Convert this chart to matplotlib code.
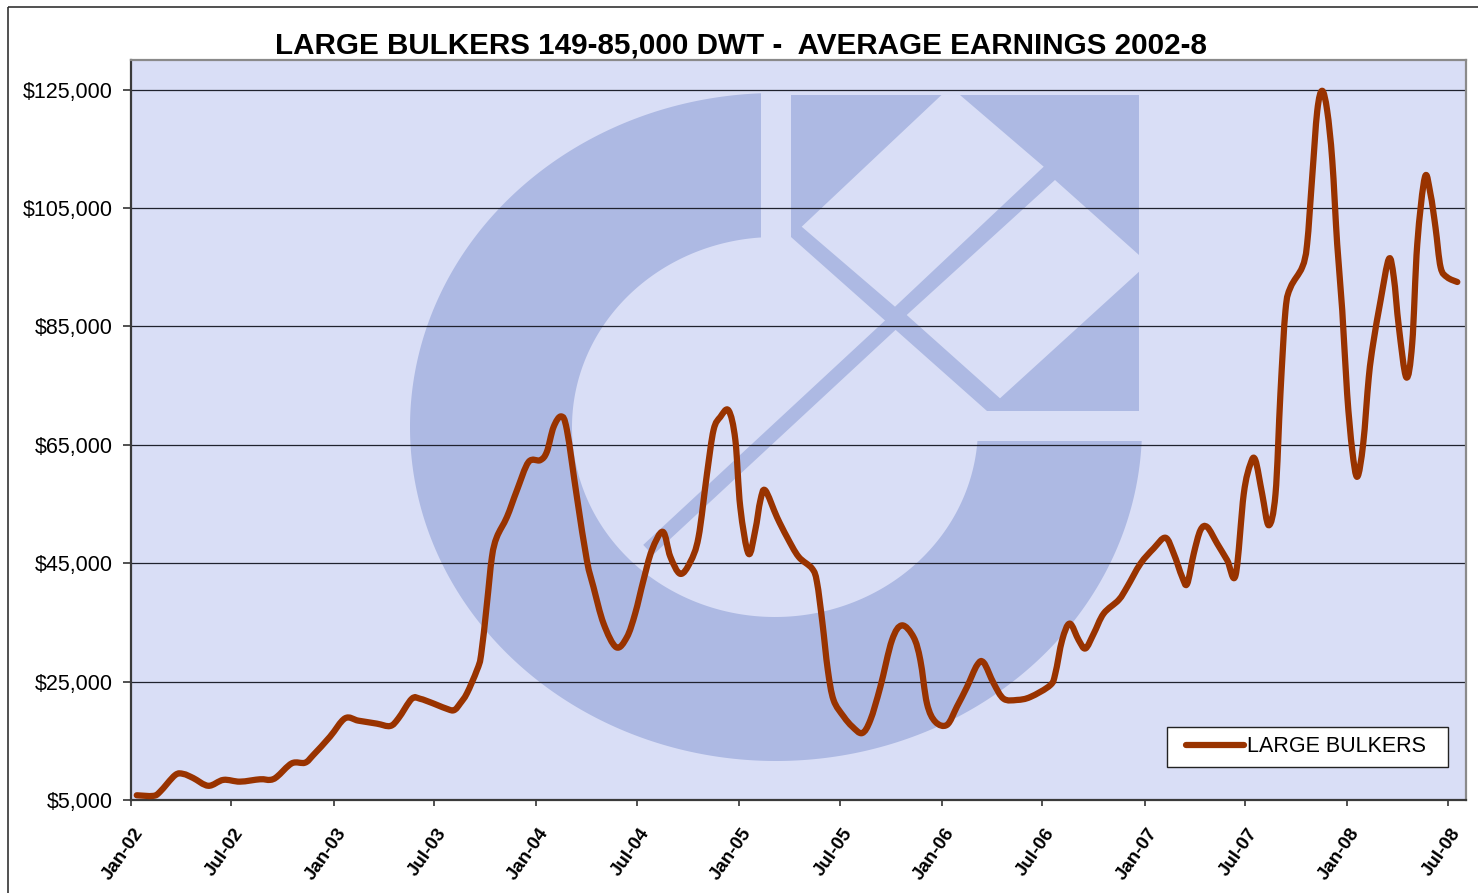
import numpy as np
import matplotlib
matplotlib.use("Agg")
import matplotlib.pyplot as plt
import matplotlib.dates as mdates
import matplotlib.transforms as mtransforms
from matplotlib.patches import Polygon, Rectangle, PathPatch
from matplotlib.path import Path
from matplotlib.lines import Line2D
from matplotlib.ticker import FuncFormatter, FixedLocator
import datetime as dt

plt.rcParams['font.family'] = ['Liberation Sans', 'DejaVu Sans']

# ---------------- data ----------------
TITLE = "LARGE BULKERS 149-85,000 DWT -  AVERAGE EARNINGS 2002-8"
SERIES_NAME = "LARGE BULKERS"

# months elapsed since 1 Jan 2002
months = [0.34, 1.32, 1.72, 2.61, 3.10, 3.69, 4.58, 5.47, 6.45, 7.64, 8.23, 8.63,
          9.52, 10.30, 10.79, 11.78, 12.67, 13.46, 14.55, 15.34, 15.83, 16.62, 17.11,
          17.90, 18.89, 19.19, 19.48, 19.88, 20.47, 20.72, 21.06, 21.36, 21.65, 22.25,
          22.84, 23.53, 24.22, 24.61, 25.01, 25.46, 25.80, 26.39, 26.98, 27.37, 27.97,
          28.72, 29.35, 29.84, 30.33, 30.83, 31.48, 31.92, 32.51, 33.10, 33.59, 34.09,
          34.48, 34.88, 35.37, 35.77, 36.06, 36.55, 36.95, 37.25, 37.54, 38.23, 38.83,
          39.51, 40.31, 40.60, 40.92, 41.24, 41.58, 42.18, 42.69, 43.27, 43.76, 44.35,
          45.04, 45.63, 46.32, 46.72, 47.11, 47.61, 48.30, 48.89, 49.48, 50.08, 50.47,
          51.06, 51.65, 52.44, 53.23, 54.41, 54.71, 55.11, 55.56, 56.09, 56.49, 56.98,
          57.57, 58.46, 58.96, 59.74, 60.53, 61.23, 61.72, 62.21, 62.51, 62.90, 63.30,
          63.70, 64.29, 64.88, 65.38, 65.86, 66.26, 66.55, 66.95, 67.34, 67.74, 68.03,
          68.33, 68.63, 69.32, 69.61, 69.91, 70.21, 70.50, 70.80, 71.10, 71.39, 71.69,
          71.98, 72.28, 72.58, 72.93, 73.26, 73.52, 73.96, 74.45, 74.74, 75.04, 75.48,
          75.83, 76.13, 76.58, 76.91, 77.21, 77.51, 77.90, 78.50]

earnings = [5800, 5700, 6400, 9200, 9400, 8700, 7400, 8400, 8100, 8500, 8400, 8900,
            11200, 11300, 12600, 15700, 18800, 18400, 17900, 17500, 18800, 22100, 22100,
            21300, 20200, 20300, 21300, 23000, 26900, 29500, 38000, 46000, 49400, 52800,
            57300, 62100, 62400, 63800, 68000, 69800, 67500, 56200, 45500, 41000, 34800,
            30800, 32500, 36500, 42100, 47200, 50300, 46100, 43200, 45200, 49400, 60100,
            67500, 69700, 70800, 65800, 54500, 46600, 50600, 55600, 57300, 52800, 49400,
            46100, 44100, 41800, 35000, 27000, 21900, 19100, 17400, 16300, 18500, 24100,
            32000, 34500, 32500, 28600, 21300, 18200, 17700, 20800, 24100, 27800, 28200,
            24700, 22100, 21900, 22400, 24400, 26400, 32000, 34800, 32000, 30600, 33100,
            36500, 38800, 41000, 44900, 47500, 49300, 46600, 42700, 41500, 46600, 50600,
            51100, 48300, 45500, 43000, 56700, 61800, 62400, 56700, 51400, 56700, 73600,
            87700, 91600, 95000, 98900, 110200, 121400, 124800, 121400, 113000, 98900, 87700,
            73600, 64100, 59600, 65200, 76400, 82100, 89400, 96400, 93300, 84900, 76400,
            82100, 98900, 110200, 107400, 101700, 95000, 93300, 92500]

y_ticks = [5000, 25000, 45000, 65000, 85000, 105000, 125000]
x_tick_labels = ["Jan-02", "Jul-02", "Jan-03", "Jul-03", "Jan-04", "Jul-04", "Jan-05",
                 "Jul-05", "Jan-06", "Jul-06", "Jan-07", "Jul-07", "Jan-08", "Jul-08"]

# ---------------- styling ----------------
W, H = 1478, 893
BG = '#D9DEF6'
LOGO = '#ADB9E3'
LINE = '#993300'

fig = plt.figure(figsize=(W / 100, H / 100), dpi=100)
fig.patch.set_facecolor('white')
ax = fig.add_axes([131 / W, 1 - 800 / H, (1466 - 131) / W, (800 - 60) / H])
ax.set_facecolor(BG)

# pixel-coordinate transform (image pixels, y downward) for decoration
px = mtransforms.Affine2D().scale(1 / W, -1 / H).translate(0, 1) + fig.transFigure

# ---- background logo (decoration) ----
def ell(cx, cy, a, b, t):
    return np.column_stack([cx + a * np.cos(t), cy - b * np.sin(t)])

ocx, ocy, oa, ob = 776, 427, 366, 334
icx, icy, ia, ib = 775, 427, 203, 190
xcut, ycut = 761, 441
to1 = np.arccos((xcut - ocx) / oa)
ti1 = np.arccos((xcut - icx) / ia)
to2 = 2 * np.pi + np.arcsin(-(ycut - ocy) / ob)
ti2 = 2 * np.pi + np.arcsin(-(ycut - icy) / ib)
outer = ell(ocx, ocy, oa, ob, np.linspace(to1, to2, 300))
inner = ell(icx, icy, ia, ib, np.linspace(ti2, ti1, 300))
ring = np.vstack([outer, inner])
ax.add_patch(Polygon(ring, closed=True, transform=px, facecolor=LOGO,
                     edgecolor='none', zorder=0.1))

square = [(791, 95), (1139, 95), (1139, 411), (987, 411), (791, 237)]
ax.add_patch(Polygon(square, closed=True, transform=px, facecolor=LOGO,
                     edgecolor='none', zorder=0.1))
dia1 = [(801.7, 226.7), (950.3, 86.7), (1043.7, 166.7), (895, 306.7)]
dia2 = [(906.7, 315), (1055, 180), (1148.3, 263.3), (1000, 398.3)]
for d in (dia1, dia2):
    ax.add_patch(Polygon(d, closed=True, transform=px, facecolor=BG,
                         edgecolor='none', zorder=0.2))
# stripe extension to lower left
p0 = np.array([925.0, 293.0])
p1 = np.array([648.0, 550.0])
u = (p1 - p0) / np.linalg.norm(p1 - p0)
nrm = np.array([-u[1], u[0]]) * 7
stripe = [p0 + nrm, p0 - nrm, p1 - nrm, p1 + nrm]
ax.add_patch(Polygon(stripe, closed=True, transform=px, facecolor=LOGO,
                     edgecolor='none', zorder=0.15))

# ---- data line (smoothed like a spreadsheet "smoothed line") ----
base = mdates.date2num(dt.datetime(2002, 1, 1))
xdates = base + np.array(months) * 30.4375
P = np.column_stack([xdates, np.array(earnings, dtype=float)])
verts = [P[0]]
codes = [Path.MOVETO]
n = len(P)
for i in range(n - 1):
    q0 = P[i - 1] if i > 0 else P[i]
    q1 = P[i]
    q2 = P[i + 1]
    q3 = P[i + 2] if i + 2 < n else P[i + 1]
    verts += [q1 + (q2 - q0) / 6.0, q2 - (q3 - q1) / 6.0, q2]
    codes += [Path.CURVE4] * 3
ax.add_patch(PathPatch(Path(verts, codes), facecolor='none', edgecolor=LINE,
                       lw=4.5, capstyle='round', joinstyle='round', zorder=3,
                       transform=ax.transData))

# ---- axes ----
ax.set_ylim(5000, 130000)
ax.set_xlim(base, base + 2405)
ax.yaxis.set_major_locator(FixedLocator(y_ticks))
ax.yaxis.set_major_formatter(FuncFormatter(lambda v, p: f"${v:,.0f}"))

tick_dates = []
for yr in range(2002, 2009):
    tick_dates.append(mdates.date2num(dt.datetime(yr, 1, 1)))
    tick_dates.append(mdates.date2num(dt.datetime(yr, 7, 1)))
ax.set_xticks(tick_dates)
ax.set_xticklabels(x_tick_labels)

ax.set_axisbelow(True)
ax.grid(axis='y', color='#20222e', lw=0.9)
ax.grid(axis='x', visible=False)

ax.tick_params(axis='y', direction='out', length=5.5, width=1.2, color='#333333',
               pad=7.5, labelsize=15.5, labelcolor='black')
ax.tick_params(axis='x', direction='out', length=4.5, width=1.2, color='#333333',
               pad=19, labelsize=13.5, labelcolor='black')
for lab in ax.get_xticklabels():
    lab.set_rotation(55)
    lab.set_ha('right')
    lab.set_va('center')
    lab.set_rotation_mode('anchor')
    lab.set_fontweight('bold')
    lab.set_transform(lab.get_transform() +
                      mtransforms.ScaledTranslation(9 / 100, 3 / 100, fig.dpi_scale_trans))

for s in ('left', 'bottom'):
    ax.spines[s].set_color('#3a3a3a')
    ax.spines[s].set_linewidth(1.6)
for s in ('top', 'right'):
    ax.spines[s].set_color('#8a8a8a')
    ax.spines[s].set_linewidth(1.6)

# ---- legend ----
ax.add_patch(Rectangle((1167, 727), 281, 40, transform=px, facecolor='white',
                       edgecolor='#222222', lw=1.0, zorder=4))
handle = Line2D([], [], color=LINE, lw=4.5, solid_capstyle='round')
leg = ax.legend(handles=[handle], labels=[SERIES_NAME], loc='center left',
                bbox_to_anchor=(1186 / W, 1 - 747 / H),
                bbox_transform=fig.transFigure, frameon=False, fontsize=15.5,
                handlelength=2.7, handletextpad=0.12, borderpad=0, borderaxespad=0)
leg.set_zorder(5)

# ---- title and outer border ----
fig.text(740.5 / W, 1 - 45 / H, TITLE, ha='center', va='center', fontsize=21.3,
         fontweight='bold')
fig.patches.append(Rectangle((8, 7), 1600, 1000, transform=px, facecolor='none',
                             edgecolor='#333333', lw=1.2, figure=fig))

fig.savefig('out.png', dpi=100, facecolor='white')
